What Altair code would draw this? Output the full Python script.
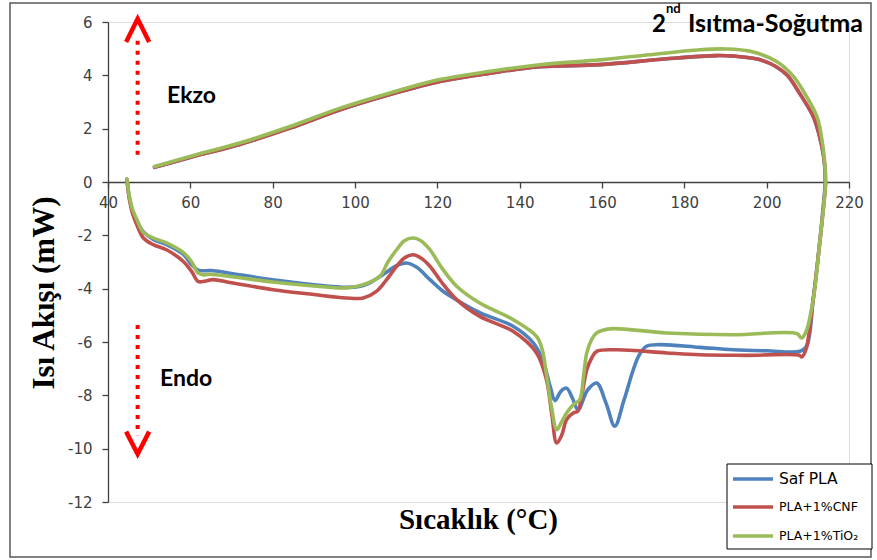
import altair as alt
import pandas as pd

# DSC second heating-cooling loop: temperature (°C) and heat flow (mW), in scan order
saf_T = [44.6, 45.2, 46.0, 47.0, 48.5, 51.0, 54.3, 58.2, 60.3, 61.8, 63.0, 65.0, 70.0, 80.0, 90.0, 98.0,
         101.0, 103.6, 107.0, 110.0, 112.5, 115.0, 118.2, 121.0, 123.9, 130.3, 138.4, 143.3, 145.6, 147.4,
         148.6, 150.0, 151.4, 152.8, 154.2, 156.5, 158.7, 161.0, 163.1, 165.3, 167.6, 169.0, 170.8, 174.1,
         183.8, 191.9, 200.0, 208.1, 209.7, 211.3, 212.8, 213.8, 214.2, 213.9, 212.7, 211.3, 208.1, 205.0,
         202.0, 198.0, 192.0, 187.8, 175.7, 159.5, 144.9, 132.8, 120.6, 108.5, 96.4, 84.2, 72.0, 59.9, 51.3]
saf_HF = [0.1, -0.6, -1.1, -1.45, -1.85, -2.15, -2.35, -2.7, -3.1, -3.3, -3.33, -3.32, -3.43, -3.67, -3.85, -3.95,
          -3.92, -3.78, -3.45, -3.15, -3.04, -3.2, -3.66, -4.05, -4.35, -4.9, -5.41, -6.03, -6.67, -7.66,
          -8.2, -7.85, -7.73, -8.1, -8.54, -7.8, -7.54, -8.3, -9.16, -8.2, -7.04, -6.5, -6.16, -6.1,
          -6.2, -6.29, -6.33, -6.35, -6.16, -4.4, -2.4, -0.8, 0.0, 0.9, 1.8, 2.46, 3.3, 4.0,
          4.35, 4.6, 4.72, 4.74, 4.62, 4.4, 4.32, 4.08, 3.77, 3.28, 2.71, 2.02, 1.41, 0.92, 0.55]

cnf_T = [44.6, 45.2, 46.0, 47.0, 48.6, 51.0, 54.2, 58.3, 60.3, 61.9, 63.5, 65.5, 70.0, 80.1, 90.0, 97.9,
         102.0, 105.2, 107.5, 110.1, 112.0, 114.1, 116.0, 118.2, 121.0, 124.7, 130.3, 138.4, 144.1, 146.5,
         147.8, 149.0, 150.2, 151.4, 153.0, 154.1, 155.2, 156.3, 157.5, 158.7, 163.5, 175.7, 183.8, 195.0,
         208.0, 208.5, 209.5, 211.3, 212.8, 213.9, 214.3, 213.9, 212.7, 211.3, 208.1, 205.0, 202.0, 198.0,
         192.0, 187.8, 175.7, 159.5, 144.9, 132.8, 120.6, 108.5, 96.4, 84.2, 72.0, 59.9, 51.3]
cnf_HF = [0.1, -0.65, -1.2, -1.6, -2.1, -2.35, -2.54, -2.98, -3.35, -3.73, -3.72, -3.66, -3.78, -4.04, -4.22, -4.35,
          -4.35, -4.1, -3.7, -3.16, -2.85, -2.73, -2.85, -3.16, -3.75, -4.41, -5.04, -5.6, -6.41, -7.41,
          -8.7, -9.79, -9.5, -8.91, -8.66, -8.6, -7.9, -7.04, -6.6, -6.35, -6.29, -6.41, -6.48, -6.5,
          -6.5, -6.56, -6.3, -4.41, -2.4, -0.8, 0.0, 0.9, 1.8, 2.46, 3.3, 4.0, 4.35, 4.6,
          4.72, 4.74, 4.62, 4.4, 4.32, 4.08, 3.77, 3.28, 2.71, 2.02, 1.41, 0.92, 0.55]

tio_T = [44.6, 45.2, 46.0, 47.0, 48.5, 51.0, 54.3, 58.1, 60.3, 61.8, 63.0, 64.7, 70.0, 80.1, 90.0, 98.0,
         102.0, 106.0, 108.0, 110.1, 112.0, 114.1, 116.0, 118.2, 121.0, 124.7, 130.3, 138.4, 144.1, 145.5,
         146.5, 147.8, 149.0, 150.2, 151.4, 153.0, 154.6, 155.5, 156.3, 157.5, 158.7, 160.0, 162.7, 175.7,
         191.9, 207.3, 208.5, 209.6, 211.3, 212.8, 213.9, 214.3, 214.0, 213.2, 212.2, 209.7, 206.5, 202.4,
         196.0, 190.3, 183.8, 171.6, 159.5, 144.9, 132.8, 120.6, 108.5, 96.4, 84.2, 72.0, 59.9, 51.3]
tio_HF = [0.1, -0.55, -1.05, -1.4, -1.87, -2.1, -2.29, -2.62, -2.99, -3.4, -3.48, -3.46, -3.55, -3.75, -3.9, -3.97,
          -3.85, -3.54, -3.0, -2.54, -2.2, -2.1, -2.2, -2.54, -3.2, -3.91, -4.54, -5.16, -5.79, -6.3,
          -7.2, -8.5, -9.29, -9.0, -8.66, -8.35, -8.16, -7.3, -6.41, -5.9, -5.66, -5.57, -5.5, -5.66,
          -5.73, -5.68, -5.85, -5.6, -4.41, -2.4, -0.8, 0.0, 0.9, 1.8, 2.46, 3.2, 3.96, 4.52,
          4.9, 4.99, 4.96, 4.77, 4.58, 4.4, 4.15, 3.84, 3.34, 2.77, 2.08, 1.46, 0.96, 0.58]

series_names = ["Saf PLA", "PLA+1%CNF", "PLA+1%TiO₂"]
series_colors = ["#4F81BD", "#C0504D", "#9BBB59"]
series_T = [saf_T, cnf_T, tio_T]
series_HF = [saf_HF, cnf_HF, tio_HF]

x_ticks = list(range(40, 221, 20))
y_ticks = list(range(-12, 7, 2))

# Exo / endo direction arrows (in data units)
arrow_x = 47.2
up_shaft = [1.02, 5.3]
up_head_T = [44.4, 47.2, 50.0]
up_head_HF = [5.25, 6.12, 5.25]
down_shaft = [-5.36, -9.5]
down_head_T = [44.4, 47.2, 50.0]
down_head_HF = [-9.36, -10.2, -9.36]

AXIS_GRAY = "#404040"
W, H = 741, 480

x_scale = alt.Scale(domain=[40, 220], nice=False, zero=False)
y_scale = alt.Scale(domain=[-12, 6], nice=False, zero=False)

# plain hyphen-minus for negative tick labels
plain_label = "'' + datum.value"

x_axis = alt.Axis(values=x_ticks, orient="bottom", offset=-320, grid=False, title=None,
                  tickSize=6, tickColor=AXIS_GRAY, tickWidth=1.3, domainColor=AXIS_GRAY, domainWidth=1.3,
                  labelFont="DejaVu Sans", labelFontSize=15, labelColor=AXIS_GRAY, labelPadding=7,
                  labelFlush=False, labelExpr=plain_label)
y_axis = alt.Axis(values=y_ticks, orient="left", grid=False, title=None,
                  tickSize=6, tickColor=AXIS_GRAY, tickWidth=1.3, domainColor=AXIS_GRAY, domainWidth=1.3,
                  labelFont="DejaVu Sans", labelFontSize=15, labelColor=AXIS_GRAY, labelPadding=10,
                  labelExpr=plain_label)


def xy():
    return dict(x=alt.X("T:Q", scale=x_scale, axis=x_axis),
                y=alt.Y("HF:Q", scale=y_scale, axis=y_axis))


layers = []
for name, color, T, HF in zip(series_names, series_colors, series_T, series_HF):
    df = pd.DataFrame({"T": T, "HF": HF, "i": range(len(T))})
    layers.append(
        alt.Chart(df).mark_line(color=color, strokeWidth=3.6, interpolate="catmull-rom",
                                strokeCap="round", strokeJoin="round").encode(order="i:O", **xy())
    )


# Dotted red arrows
def shaft(y_vals):
    d = pd.DataFrame({"T": [arrow_x, arrow_x], "HF": y_vals})
    return alt.Chart(d).mark_line(color="#FF0000", strokeWidth=4, strokeDash=[4, 6],
                                  strokeCap="butt").encode(**xy())


def head(T, HF):
    d = pd.DataFrame({"T": T, "HF": HF, "i": range(len(T))})
    return alt.Chart(d).mark_line(color="#FF0000", strokeWidth=4.5, strokeJoin="miter",
                                  strokeCap="butt").encode(order="i:O", **xy())


layers += [shaft(up_shaft), head(up_head_T, up_head_HF), shaft(down_shaft), head(down_head_T, down_head_HF)]

one = pd.DataFrame({"a": [0]})

# Outer frame around the figure
frame = alt.Chart(one).mark_rect(fill=None, stroke="#595959", strokeWidth=1.5).encode(
    x=alt.value(-98), x2=alt.value(763), y=alt.value(-19), y2=alt.value(535))


# Text annotations
def label(text, x, y, size, font="Lato", weight="bold", align="left", angle=0, color="black",
          baseline="alphabetic"):
    return alt.Chart(pd.DataFrame({"t": [text]})).mark_text(
        font=font, fontSize=size, fontWeight=weight, align=align, baseline=baseline, angle=angle, color=color
    ).encode(text="t:N", x=alt.value(x), y=alt.value(y))


texts = [
    label("2", 544, 10, 24),
    label("nd", 558, -9, 13),
    label("Isıtma-Soğutma", 580, 10, 25),
    label("Ekzo", 59, 81, 23),
    label("Endo", 52, 364, 23),
    label("Sıcaklık (°C)", 370.5, 507, 29, font="Liberation Serif", align="center"),
    label("Isı Akışı (mW)", -63, 271, 31, font="Liberation Serif", align="center", angle=270,
          baseline="middle"),
]

# Legend box
leg_box = alt.Chart(one).mark_rect(fill="white", stroke="black", strokeWidth=1).encode(
    x=alt.value(619), x2=alt.value(764), y=alt.value(442), y2=alt.value(527))
leg_rows = [457, 485, 514]
leg_sizes = [15.5, 12.5, 12.5]
leg_items = []
for name, color, yy, fs in zip(series_names, series_colors, leg_rows, leg_sizes):
    leg_items.append(alt.Chart(one).mark_rule(color=color, strokeWidth=3.6).encode(
        x=alt.value(625), x2=alt.value(665), y=alt.value(yy)))
    leg_items.append(label(name, 671, yy, fs, font="DejaVu Sans", weight="normal", baseline="middle"))

chart = alt.layer(frame, *layers, *texts, leg_box, *leg_items).properties(
    width=W, height=H,
    padding={"left": 108, "top": 22, "right": 28, "bottom": 58},
    autosize=alt.AutoSizeParams(type="none"),
).configure_view(stroke=None).configure(background="white")

chart.save("out.html", embed_options={"renderer": "svg", "actions": False})
